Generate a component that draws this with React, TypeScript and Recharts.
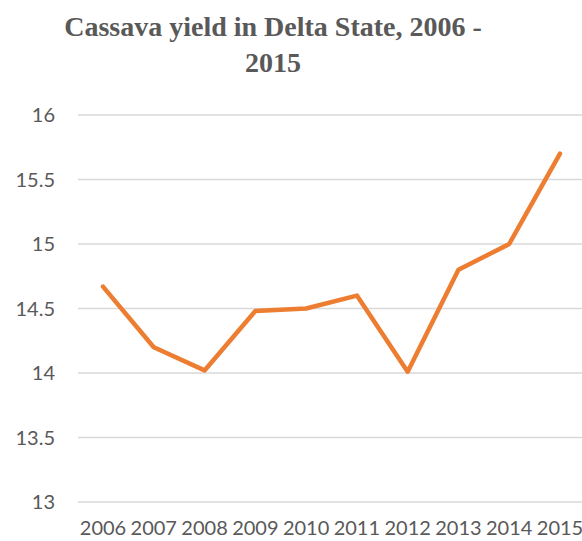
import * as React from 'react';
import { LineChart, Line, XAxis, YAxis, CartesianGrid } from 'recharts';

const years = ['2006', '2007', '2008', '2009', '2010', '2011', '2012', '2013', '2014', '2015'];
const yieldValues = [14.67, 14.2, 14.02, 14.48, 14.5, 14.6, 14.01, 14.8, 15.0, 15.7];
const yTicks = [13, 13.5, 14, 14.5, 15, 15.5, 16];

const data = years.map((year, i) => ({ year, value: yieldValues[i] }));

const tickStyle = { fill: '#595959', fontSize: 20, fontFamily: 'Lato, "Open Sans", sans-serif' };

export default function App(): React.JSX.Element {
  return (
    <div style={{ position: 'absolute', left: 0, top: 0, width: 582, height: 541, overflow: 'hidden', background: '#fff' }}>
      <div
        style={{
          position: 'absolute',
          left: 0,
          top: 9,
          width: 546,
          textAlign: 'center',
          fontFamily: '"Liberation Serif", serif',
          fontWeight: 'bold',
          fontSize: 28,
          lineHeight: '36px',
          color: '#595959',
        }}
      >
        Cassava yield in Delta State, 2006 -<br />2015
      </div>
      <LineChart width={585} height={541} data={data} margin={{ top: 115, right: 0, bottom: 0, left: 0 }}>
        <CartesianGrid vertical={false} stroke="#D9D9D9" strokeWidth={1.3} />
        <XAxis
          dataKey="year"
          axisLine={false}
          tickLine={false}
          interval={0}
          padding={{ left: 25, right: 25 }}
          tick={tickStyle}
          tickMargin={13}
          height={39}
        />
        <YAxis
          domain={[13, 16]}
          ticks={yTicks}
          axisLine={false}
          tickLine={false}
          tick={tickStyle}
          tickMargin={17}
          width={78}
        />
        <Line
          dataKey="value"
          stroke="#ED7D31"
          strokeWidth={4.5}
          strokeLinecap="round"
          strokeLinejoin="round"
          dot={false}
          isAnimationActive={false}
        />
      </LineChart>
    </div>
  );
}
